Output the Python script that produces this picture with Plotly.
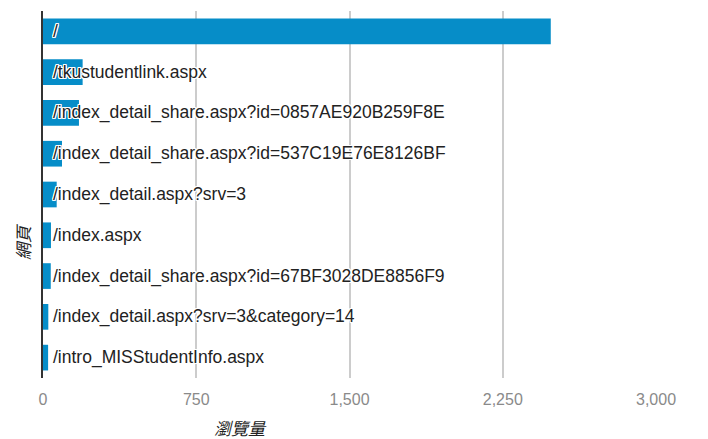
import plotly.graph_objects as go

pages = [
    "/",
    "/tkustudentlink.aspx",
    "/index_detail_share.aspx?id=0857AE920B259F8E",
    "/index_detail_share.aspx?id=537C19E76E8126BF",
    "/index_detail.aspx?srv=3",
    "/index.aspx",
    "/index_detail_share.aspx?id=67BF3028DE8856F9",
    "/index_detail.aspx?srv=3&category=14",
    "/intro_MISStudentInfo.aspx",
]
views = [2485, 194, 176, 93, 67, 39, 38, 26, 25]
tick_vals = [0, 750, 1500, 2250, 3000]
tick_text = ["0", "750", "1,500", "2,250", "3,000"]

# plot area in window pixels (page body has an 8px margin)
L, R, T, B = 43, 656, 11, 378
PW, PH = R - L, B - T

fig = go.Figure()
fig.add_trace(go.Bar(
    x=views, y=pages, orientation="h",
    marker=dict(color="#068dc8", line=dict(width=0)),
    width=0.63, hoverinfo="x+y",
))

halo = ("1px 1px 0 white, -1px -1px 0 white, 1px -1px 0 white, -1px 1px 0 white, "
        "0 1px 0 white, 0 -1px 0 white, 1px 0 0 white, -1px 0 0 white")
for p in pages:
    fig.add_annotation(
        x=0, y=p, xref="x", yref="y", text=p, showarrow=False,
        xanchor="left", yanchor="middle", xshift=8,
        font=dict(family="Liberation Sans, Arial", size=17.5, color="#222222", shadow=halo),
    )

fig.add_annotation(
    x=(240 - L) / PW, y=-(427 - B) / PH, xref="paper", yref="paper",
    text="<i>瀏覽量</i>", showarrow=False, xanchor="center", yanchor="middle",
    borderpad=0,
    font=dict(family="Noto Sans CJK TC", size=17, color="#222222"),
)
fig.add_annotation(
    x=-(L - 22) / PW, y=1 - (242 - T) / PH, xref="paper", yref="paper",
    text="<i>網頁</i>", showarrow=False, textangle=-90,
    xanchor="center", yanchor="middle",
    font=dict(family="Noto Sans CJK TC", size=17, color="#222222"),
)

fig.update_layout(
    width=700, height=431,
    margin=dict(l=L - 8, r=708 - R - 8 + 8, t=T - 8, b=431 + 8 - B),
    paper_bgcolor="white", plot_bgcolor="white",
    showlegend=False,
    xaxis=dict(
        range=[0, 3000], tickvals=tick_vals, ticktext=tick_text,
        showgrid=True, gridcolor="#cccccc", gridwidth=1.5,
        zeroline=False, showline=False, ticks="", ticklabelstandoff=10,
        tickfont=dict(family="Liberation Sans, Arial", size=16, color="#8a8a8a"),
        fixedrange=True,
    ),
    yaxis=dict(
        autorange="reversed", showticklabels=False, showgrid=False,
        showline=True, linecolor="#333333", linewidth=2, ticks="",
        fixedrange=True,
    ),
)

fig.write_html("out.html")
